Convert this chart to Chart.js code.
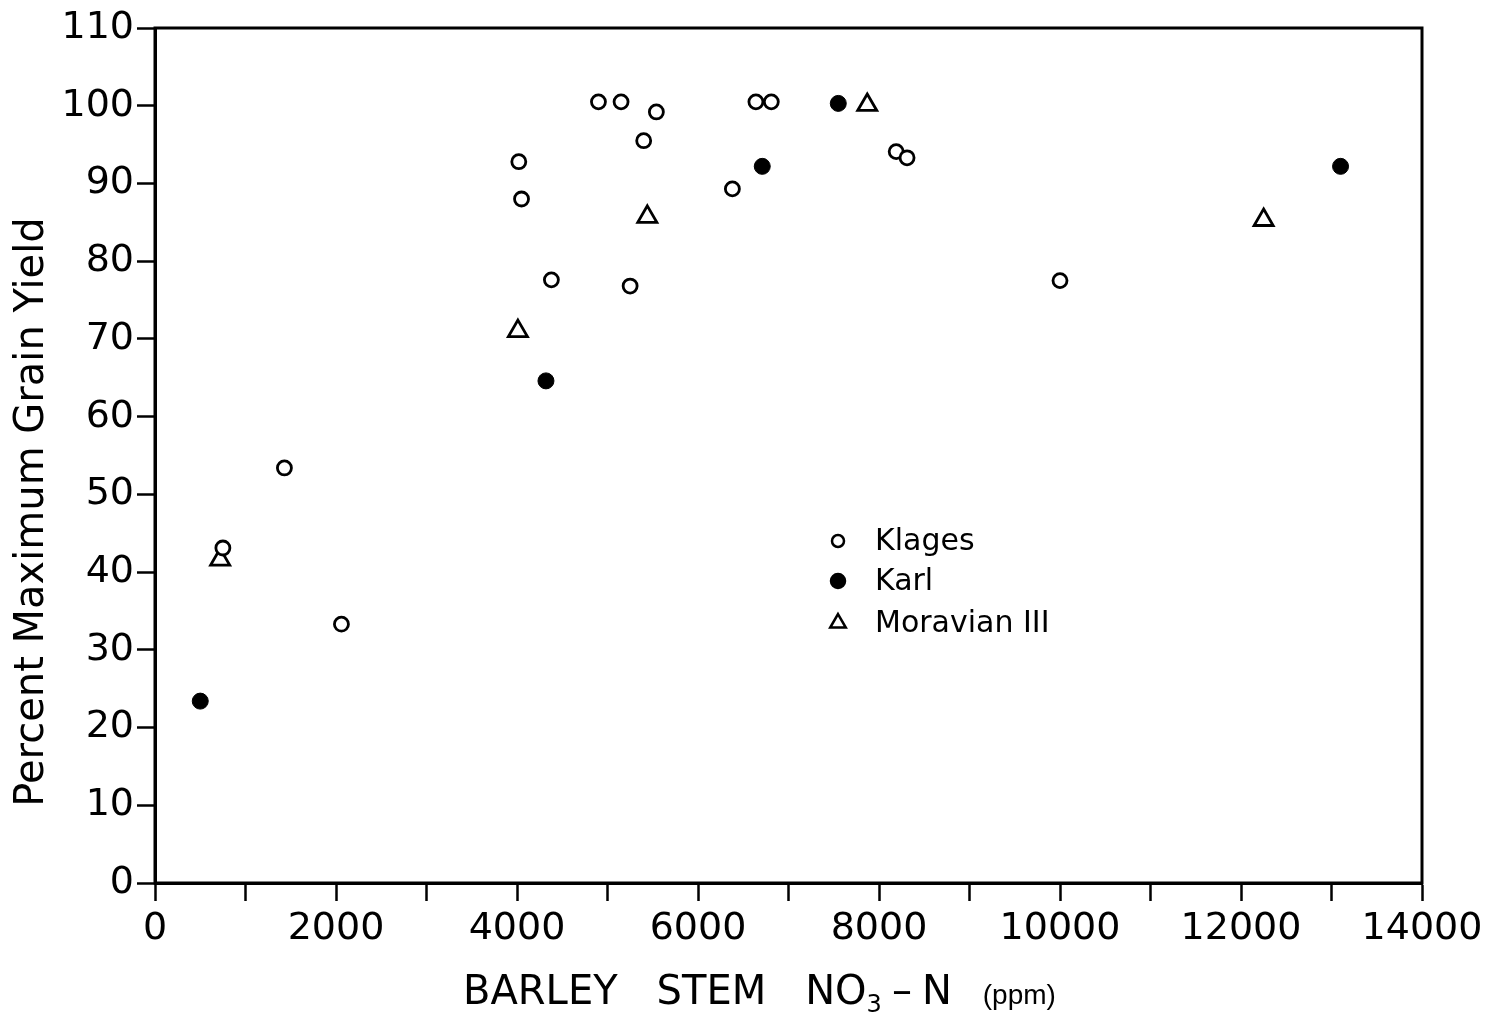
<!DOCTYPE html>
<html>
<head>
<meta charset="utf-8">
<style>
  html, body { margin: 0; padding: 0; background: #fff; }
  #wrap { width: 1488px; height: 1012px; }
</style>
<script src="https://cdn.jsdelivr.net/npm/chart.js"></script>
</head>
<body>
<div id="wrap"><canvas id="chart" width="1488" height="1012"></canvas></div>
<script>
// values
const klagesX = [750, 1430, 2060, 4020, 4050, 4380, 4900, 5150, 5250, 5400, 5540, 6380, 6640, 6810, 8190, 8310, 10000];
const klagesY = [43.1, 53.4, 33.3, 92.8, 88.0, 77.6, 100.5, 100.5, 76.8, 95.5, 99.2, 89.3, 100.5, 100.5, 94.1, 93.3, 77.5];
const karlX = [500, 4320, 6710, 7550, 13100];
const karlY = [23.4, 64.6, 92.2, 100.3, 92.2];
const moravX = [720, 4010, 5440, 7870, 12250];
const moravY = [41.6, 71.0, 85.7, 100.1, 85.3];

const seriesNames = ['Klages', 'Karl', 'Moravian III'];
const yTicks = [0, 10, 20, 30, 40, 50, 60, 70, 80, 90, 100, 110];
const xLabelStep = 2000;
const yTitle = 'Percent Maximum Grain Yield';

const FONT = "'DejaVu Sans', sans-serif";

function toPoints(xs, ys) {
  return xs.map((x, i) => ({ x: x, y: ys[i] }));
}

// frame, legend inside the plot, axis titles
const extras = {
  id: 'extras',
  afterDraw(chart) {
    const ctx = chart.ctx;
    const a = chart.chartArea;
    ctx.save();
    ctx.strokeStyle = '#000';
    ctx.lineWidth = 3;
    ctx.strokeRect(a.left, a.top, a.right - a.left, a.bottom - a.top);

    // legend
    const lx = 838, rows = [541, 581, 623];
    ctx.font = '30px ' + FONT;
    ctx.textBaseline = 'middle';
    ctx.fillStyle = '#000';
    chart.data.datasets.forEach((ds, i) => {
      const y = rows[i];
      ctx.lineWidth = 2.5;
      ctx.beginPath();
      if (ds.pointStyle === 'triangle') {
        const r = 9;
        ctx.moveTo(lx, y - r);
        ctx.lineTo(lx + r * 0.866, y + r / 2);
        ctx.lineTo(lx - r * 0.866, y + r / 2);
        ctx.closePath();
      } else {
        ctx.arc(lx, y, ds.label === 'Karl' ? 7 : 6, 0, Math.PI * 2);
      }
      ctx.fillStyle = ds.backgroundColor;
      ctx.fill();
      ctx.stroke();
      ctx.fillStyle = '#000';
      ctx.fillText(ds.label, 875, y + 1);
    });

    // y axis title (sits a bit below the middle in the original)
    ctx.save();
    ctx.translate(33, 512);
    ctx.rotate(-Math.PI / 2);
    ctx.font = '40px ' + FONT;
    ctx.textAlign = 'center';
    ctx.textBaseline = 'middle';
    ctx.fillText(yTitle, 0, 0);
    ctx.restore();

    // x axis title
    ctx.textBaseline = 'alphabetic';
    const base = 1004;
    let x = 463;
    ctx.font = '40px ' + FONT;
    ctx.fillText('BARLEY', x, base);
    x += ctx.measureText('BARLEY').width + 39;
    ctx.fillText('STEM', x, base);
    x += ctx.measureText('STEM').width + 39;
    ctx.fillText('NO', x, base);
    x += ctx.measureText('NO').width;
    ctx.font = '24px ' + FONT;
    ctx.fillText('3', x, base + 8);
    x += ctx.measureText('3').width + 10;
    ctx.font = '40px ' + FONT;
    ctx.fillText('\u2013', x, base);
    x += ctx.measureText('\u2013').width + 10;
    ctx.fillText('N', x, base);
    x += ctx.measureText('N').width + 31;
    ctx.font = '28px "Liberation Sans", Arial, sans-serif';
    ctx.fillText('(ppm)', x, base);
    ctx.restore();
  }
};

const ctx = document.getElementById('chart').getContext('2d');
const chart = new Chart(ctx, {
  type: 'scatter',
  data: {
    datasets: [
      {
        label: seriesNames[0],
        data: toPoints(klagesX, klagesY),
        pointStyle: 'circle',
        pointRadius: 7,
        pointBorderWidth: 2.8,
        backgroundColor: '#fff',
        borderColor: '#000'
      },
      {
        label: seriesNames[1],
        data: toPoints(karlX, karlY),
        pointStyle: 'circle',
        pointRadius: 8,
        pointBorderWidth: 1,
        backgroundColor: '#000',
        borderColor: '#000'
      },
      {
        label: seriesNames[2],
        data: toPoints(moravX, moravY),
        pointStyle: 'triangle',
        pointRadius: 11,
        pointBorderWidth: 2.8,
        backgroundColor: '#fff',
        borderColor: '#000'
      }
    ]
  },
  options: {
    responsive: false,
    animation: false,
    layout: { padding: { top: 28, right: 66, left: 0, bottom: 0 } },
    plugins: {
      legend: { display: false },
      tooltip: { enabled: false }
    },
    scales: {
      x: {
        type: 'linear',
        min: 0,
        max: 14000,
        afterFit(scale) { scale.height = 129; },
        border: { display: true, color: '#000', width: 3 },
        grid: {
          drawOnChartArea: false,
          drawTicks: true,
          tickLength: 18,
          tickColor: '#000',
          tickWidth: 2.5
        },
        ticks: {
          stepSize: 1000,
          autoSkip: false,
          maxRotation: 0,
          padding: 5,
          color: '#000',
          font: { family: FONT, size: 38 },
          callback: (v) => (v % xLabelStep === 0 ? String(v) : '')
        },
        title: { display: false }
      },
      y: {
        type: 'linear',
        min: yTicks[0],
        max: yTicks[yTicks.length - 1],
        afterFit(scale) { scale.width = 155; },
        afterBuildTicks(scale) { scale.ticks = yTicks.map(v => ({ value: v })); },
        border: { display: true, color: '#000', width: 3 },
        grid: {
          drawOnChartArea: false,
          drawTicks: true,
          tickLength: 18,
          tickColor: '#000',
          tickWidth: 2.5
        },
        ticks: {
          padding: 3,
          color: '#000',
          font: { family: FONT, size: 38 }
        },
        title: { display: false }
      }
    }
  },
  plugins: [extras]
});
</script>
</body>
</html>
